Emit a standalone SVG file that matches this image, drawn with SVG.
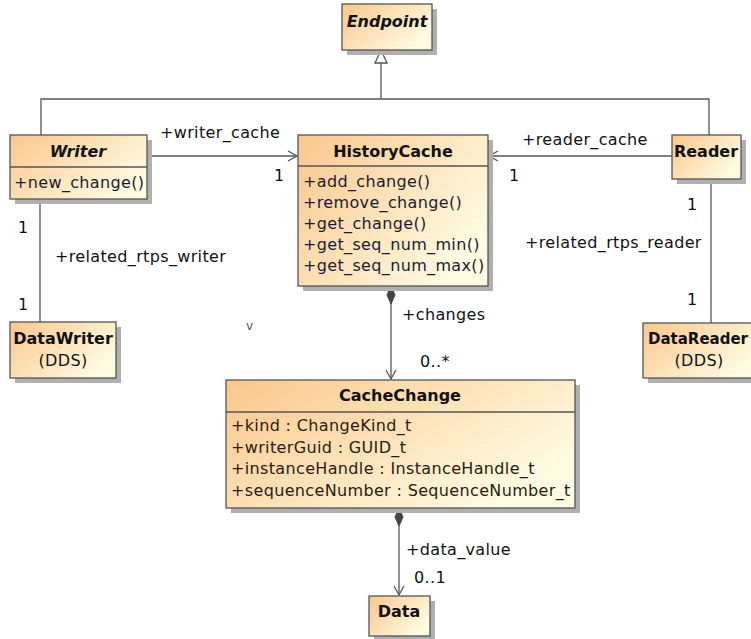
<svg xmlns="http://www.w3.org/2000/svg" width="751" height="639" viewBox="0 0 751 639">
<defs>
<linearGradient id="fill" x1="0" y1="0" x2="1" y2="0.6">
<stop offset="0" stop-color="#FBC78C"/>
<stop offset="1" stop-color="#FFFBE2"/>
</linearGradient>
<marker id="open" viewBox="0 0 12 12" refX="10" refY="6" markerWidth="12" markerHeight="12" markerUnits="userSpaceOnUse" orient="auto">
<path d="M1,1 L10,6 L1,11" fill="none" stroke="#555" stroke-width="1.3"/>
</marker>
</defs>
<style>
.shadow{fill:#b0b0b0}
.box{fill:url(#fill);stroke:#555;stroke-width:1.3}
.div{stroke:#555;stroke-width:1.3}
.t{font-family:"DejaVu Sans",Verdana,sans-serif;font-size:16px;fill:#111;letter-spacing:0.35px}
.b{font-weight:bold;letter-spacing:0}
.i{font-style:italic}
.c{text-anchor:middle}
.m{fill:#1a1a33}
.line{fill:none;stroke:#555;stroke-width:1.3}
</style>
<rect width="751" height="639" fill="#fff"/>

<g id="connectors">
<polygon points="381,50 375,63 387,63" fill="#fff" stroke="#555" stroke-width="1.3"/>
<polyline class="line" points="381,63 381,99"/>
<polyline class="line" points="41,135 41,99 709,99 709,135"/>
<line class="line" x1="147" y1="156" x2="297" y2="156" marker-end="url(#open)"/>
<line class="line" x1="672" y1="156" x2="489" y2="156" marker-end="url(#open)"/>
<line class="line" x1="40" y1="199" x2="40" y2="322"/>
<line class="line" x1="711" y1="179" x2="711" y2="323"/>
<line class="line" x1="391" y1="303" x2="391" y2="379" marker-end="url(#open)"/>
<polygon points="391,286 395,295 391,304 387,295" fill="#444" stroke="#444" stroke-width="1"/>
<line class="line" x1="399" y1="525" x2="399" y2="595" marker-end="url(#open)"/>
<polygon points="399,508 403,517 399,526 395,517" fill="#444" stroke="#444" stroke-width="1"/>
<text class="t" x="160" y="138">+writer_cache</text>
<text class="t" x="274" y="181">1</text>
<text class="t" x="522" y="145">+reader_cache</text>
<text class="t" x="509" y="181">1</text>
<text class="t" x="55" y="262">+related_rtps_writer</text>
<text class="t" x="18" y="233">1</text>
<text class="t" x="18" y="310">1</text>
<text class="t" x="525" y="248">+related_rtps_reader</text>
<text class="t" x="687" y="210">1</text>
<text class="t" x="687" y="305">1</text>
<text class="t" x="402" y="320">+changes</text>
<text class="t" x="420" y="367">0..*</text>
<text class="t" x="406" y="555">+data_value</text>
<text class="t" x="414" y="583">0..1</text>
<text class="t" x="246" y="330" style="font-size:12px;fill:#555">v</text>
</g>

<g id="Endpoint">
<rect class="shadow" x="347" y="9" width="90" height="46"/>
<rect class="box" x="342" y="4" width="90" height="46"/>
<text class="t b i c" x="387" y="27">Endpoint</text>
</g>

<g id="Writer">
<rect class="shadow" x="15" y="140" width="137" height="64"/>
<rect class="box" x="10" y="135" width="137" height="64"/>
<line class="div" x1="10" y1="167" x2="147" y2="167"/>
<text class="t b i c" x="78" y="157">Writer</text>
<text class="t m" x="14" y="188">+new_change()</text>
</g>

<g id="HistoryCache">
<rect class="shadow" x="303" y="140" width="190" height="151"/>
<rect class="box" x="298" y="135" width="190" height="151"/>
<line class="div" x1="298" y1="166" x2="488" y2="166"/>
<text class="t b c" x="393" y="157">HistoryCache</text>
<text class="t m" x="303" y="187">+add_change()</text>
<text class="t m" x="303" y="208">+remove_change()</text>
<text class="t m" x="303" y="229">+get_change()</text>
<text class="t m" x="303" y="250">+get_seq_num_min()</text>
<text class="t m" x="303" y="271">+get_seq_num_max()</text>
</g>

<g id="Reader">
<rect class="shadow" x="677" y="140" width="69" height="44"/>
<rect class="box" x="672" y="135" width="69" height="44"/>
<text class="t b c" x="706" y="157">Reader</text>
</g>

<g id="DataWriter">
<rect class="shadow" x="15" y="327" width="106" height="56"/>
<rect class="box" x="10" y="322" width="106" height="56"/>
<text class="t b c" x="63" y="344">DataWriter</text>
<text class="t c" x="63" y="366">(DDS)</text>
</g>

<g id="DataReader">
<rect class="shadow" x="648" y="328" width="115" height="55"/>
<rect class="box" x="643" y="323" width="115" height="55"/>
<text class="t b" x="648" y="344" style="font-size:15px">DataReader</text>
<text class="t c" x="699" y="366">(DDS)</text>
</g>

<g id="CacheChange">
<rect class="shadow" x="231" y="385" width="349" height="128"/>
<rect class="box" x="226" y="380" width="349" height="128"/>
<line class="div" x1="226" y1="412" x2="575" y2="412"/>
<text class="t b c" x="400" y="401">CacheChange</text>
<text class="t" x="231" y="431" style="fill:#2a1a10">+kind : ChangeKind_t</text>
<text class="t" x="231" y="453" style="fill:#2a1a10">+writerGuid : GUID_t</text>
<text class="t" x="231" y="474" style="fill:#2a1a10">+instanceHandle : InstanceHandle_t</text>
<text class="t" x="231" y="496" style="fill:#2a1a10">+sequenceNumber : SequenceNumber_t</text>
</g>

<g id="Data">
<rect class="shadow" x="374" y="601" width="61" height="40"/>
<rect class="box" x="369" y="596" width="61" height="40"/>
<text class="t b c" x="399" y="617">Data</text>
</g>
</svg>
